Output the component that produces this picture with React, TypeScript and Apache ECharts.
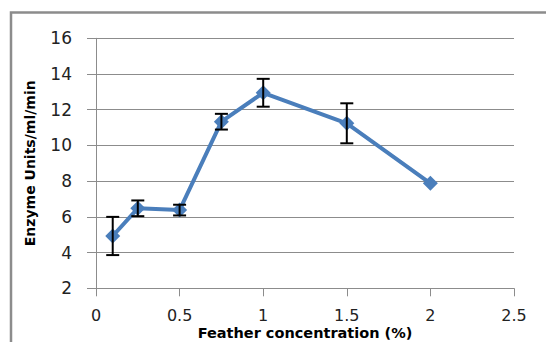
import React, { useEffect, useRef } from "react";
import * as echarts from "echarts";

const concentrations = [0.1, 0.25, 0.5, 0.75, 1, 1.5, 2];
const activity = [4.93, 6.48, 6.38, 11.33, 12.95, 11.24, 7.88];
const errors = [1.07, 0.44, 0.3, 0.44, 0.78, 1.12, 0];
const yTicks = { min: 2, max: 16, interval: 2 };
const xTicks = { min: 0, max: 2.5, interval: 0.5 };

export default function App() {
  const ref = useRef<HTMLDivElement>(null);
  useEffect(() => {
    if (!ref.current) return;
    const chart = echarts.init(ref.current, undefined, { renderer: "svg" });
    const lineData = concentrations.map((x, i) => [x, activity[i]]);
    const errData = concentrations.map((x, i) => [x, activity[i] - errors[i], activity[i] + errors[i]]);
    chart.setOption({
      animation: false,
      backgroundColor: "#ffffff",
      graphic: [
        {
          type: "rect",
          shape: { x: 11, y: 12.5, width: 700, height: 500 },
          style: { fill: "none", stroke: "#8c8c8c", lineWidth: 2.5 },
          silent: true,
        },
      ],
      grid: { left: 96, top: 38.3, right: 32, bottom: 53.7, containLabel: false, outerBoundsMode: "none" },
      xAxis: {
        type: "value",
        min: xTicks.min,
        max: xTicks.max,
        interval: xTicks.interval,
        name: "Feather concentration (%)",
        nameLocation: "middle",
        nameGap: 37,
        nameMoveOverlap: false,
        nameTextStyle: { fontFamily: "DejaVu Sans", fontWeight: "bold", fontSize: 14.5, lineHeight: 16, color: "#000" },
        axisLine: { show: true, lineStyle: { color: "#8c8c8c", width: 1 } },
        axisTick: { show: true, length: 8, lineStyle: { color: "#8c8c8c" } },
        axisLabel: { margin: 19, fontFamily: "DejaVu Sans", fontSize: 16, lineHeight: 16, color: "#222" },
        splitLine: { show: false },
      },
      yAxis: {
        type: "value",
        min: yTicks.min,
        max: yTicks.max,
        interval: yTicks.interval,
        name: "Enzyme Units/ml/min",
        nameLocation: "middle",
        nameGap: 59,
        nameMoveOverlap: false,
        nameTextStyle: { fontFamily: "DejaVu Sans", fontWeight: "bold", fontSize: 14, color: "#000" },
        axisLine: { show: true, lineStyle: { color: "#8c8c8c", width: 1 } },
        axisTick: { show: true, length: 9, lineStyle: { color: "#8c8c8c" } },
        axisLabel: { margin: 24, fontFamily: "DejaVu Sans", fontSize: 17, color: "#222" },
        splitLine: { show: true, lineStyle: { color: "#8c8c8c", width: 1 } },
      },
      series: [
        {
          type: "line",
          data: lineData,
          symbol: "diamond",
          symbolSize: 15,
          lineStyle: { color: "#4a7ebb", width: 4 },
          itemStyle: { color: "#4a7ebb" },
          z: 2,
        },
        {
          type: "custom",
          data: errData,
          z: 3,
          renderItem: (params: any, api: any) => {
            const x = api.value(0);
            const lo = api.coord([x, api.value(1)]);
            const hi = api.coord([x, api.value(2)]);
            if (Math.abs(hi[1] - lo[1]) < 1) return { type: "group", children: [] };
            const w = 6.5;
            const style = { stroke: "#000", lineWidth: 2 };
            return {
              type: "group",
              children: [
                { type: "line", shape: { x1: lo[0], y1: lo[1], x2: hi[0], y2: hi[1] }, style },
                { type: "line", shape: { x1: lo[0] - w, y1: lo[1], x2: lo[0] + w, y2: lo[1] }, style },
                { type: "line", shape: { x1: hi[0] - w, y1: hi[1], x2: hi[0] + w, y2: hi[1] }, style },
              ],
            };
          },
        },
      ],
    });
    return () => chart.dispose();
  }, []);
  return <div ref={ref} style={{ width: 546, height: 342, position: "absolute", left: 0, top: 0 }} />;
}
